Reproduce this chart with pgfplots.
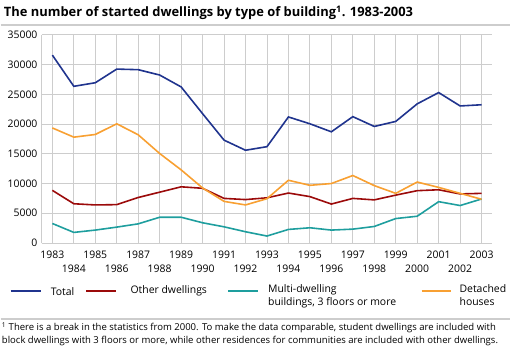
\documentclass[border=0pt]{standalone}
\usepackage{pgfplots}
\pgfplotsset{compat=1.18}
\usepackage{fontspec}
\setmainfont{Open Sans}
\definecolor{ctotal}{RGB}{32,52,142}
\definecolor{cother}{RGB}{155,10,10}
\definecolor{cmulti}{RGB}{30,158,158}
\definecolor{cdet}{RGB}{248,160,50}
\definecolor{cgrid}{RGB}{205,205,205}
\pgfplotstableread{
year total other multi detached
1983 31600 8850 3280 19350
1984 26350 6600 1780 17800
1985 26950 6400 2170 18250
1986 29250 6450 2670 20050
1987 29150 7650 3220 18200
1988 28250 8550 4330 15050
1989 26250 9450 4330 12300
1990 21750 9200 3400 9250
1991 17300 7500 2720 7000
1992 15600 7300 1890 6400
1993 16200 7600 1170 7450
1994 21200 8400 2280 10550
1995 20050 7800 2560 9700
1996 18700 6550 2170 10000
1997 21250 7500 2330 11350
1998 19600 7250 2780 9650
1999 20450 8050 4110 8350
2000 23400 8800 4500 10250
2001 25300 8950 6950 9350
2002 23050 8250 6300 8350
2003 23250 8350 7400 7350
}\data
\begin{document}
\begin{tikzpicture}
\begin{scope}[x=1bp,y=1bp]
\path[use as bounding box] (0,0) rectangle (511,347);
\node[anchor=west,font=\fontsize{13}{15}\selectfont\bfseries,inner sep=0pt] at (3,334) {The number of started dwellings by type of building\textsuperscript{1}. 1983-2003};
\draw[cgrid,line width=1.5bp] (0,322) -- (511,322);
\end{scope}
\begin{axis}[
  at={(41bp,103.3bp)}, anchor=south west,
  width=452bp, height=208.7bp, scale only axis,
  xmin=1982.5, xmax=2003.5, ymin=0, ymax=35000,
  xtick={1983,...,2003},
  xticklabels={1983,{\strut\\1984},1985,{\strut\\1986},1987,{\strut\\1988},1989,{\strut\\1990},1991,{\strut\\1992},1993,{\strut\\1994},1995,{\strut\\1996},1997,{\strut\\1998},1999,{\strut\\2000},2001,{\strut\\2002},2003},
  xticklabel style={align=center,font=\fontsize{10.5}{12.5}\selectfont,inner sep=0pt,yshift=-8bp},
  ytick={0,5000,...,35000},
  yticklabel style={font=\fontsize{10.5}{12}\selectfont,inner sep=1pt,xshift=-3bp},
  /pgf/number format/assume math mode=true,
  scaled y ticks=false,
  yticklabel={\pgfmathprintnumber[fixed,1000 sep={}]{\tick}},
  major tick length=0pt,
  grid=major,
  major grid style={cgrid,line width=0.9bp},
  axis x line*=bottom, axis y line*=left,
  axis line style={cgrid,line width=0.9bp},
  clip=false,
]
\addplot[ctotal,line width=1.6bp] table[x=year,y=total]{\data};
\addplot[cother,line width=1.6bp] table[x=year,y=other]{\data};
\addplot[cmulti,line width=1.6bp] table[x=year,y=multi]{\data};
\addplot[cdet,line width=1.6bp] table[x=year,y=detached]{\data};
\end{axis}
\begin{scope}[x=1bp,y=1bp,every node/.style={font=\fontsize{10.5}{13}\selectfont,inner sep=0pt,anchor=west}]
\draw[ctotal,line width=1.6bp] (10,55) -- (40,55);
\node at (50,55) {Total};
\draw[cother,line width=1.6bp] (86,55) -- (116,55);
\node at (130,55) {Other dwellings};
\draw[cmulti,line width=1.6bp] (228,55) -- (258,55);
\node[anchor=north west,align=left] at (268,61.5) {Multi-dwelling\\buildings, 3 floors or more};
\draw[cdet,line width=1.6bp] (422,55) -- (452,55);
\node[anchor=north west,align=left] at (460,61.5) {Detached\\houses};
\draw[cgrid,line width=1.5bp] (0,27) -- (511,27);
\node[anchor=north west,inner sep=0pt,font=\fontsize{9.6}{13}\selectfont,align=left] at (1,24) {\textsuperscript{1} There is a break in the statistics from 2000. To make the data comparable, student dwellings are included with\\block dwellings with 3 floors or more, while other residences for communities are included with other dwellings.};
\end{scope}
\end{tikzpicture}
\end{document}
